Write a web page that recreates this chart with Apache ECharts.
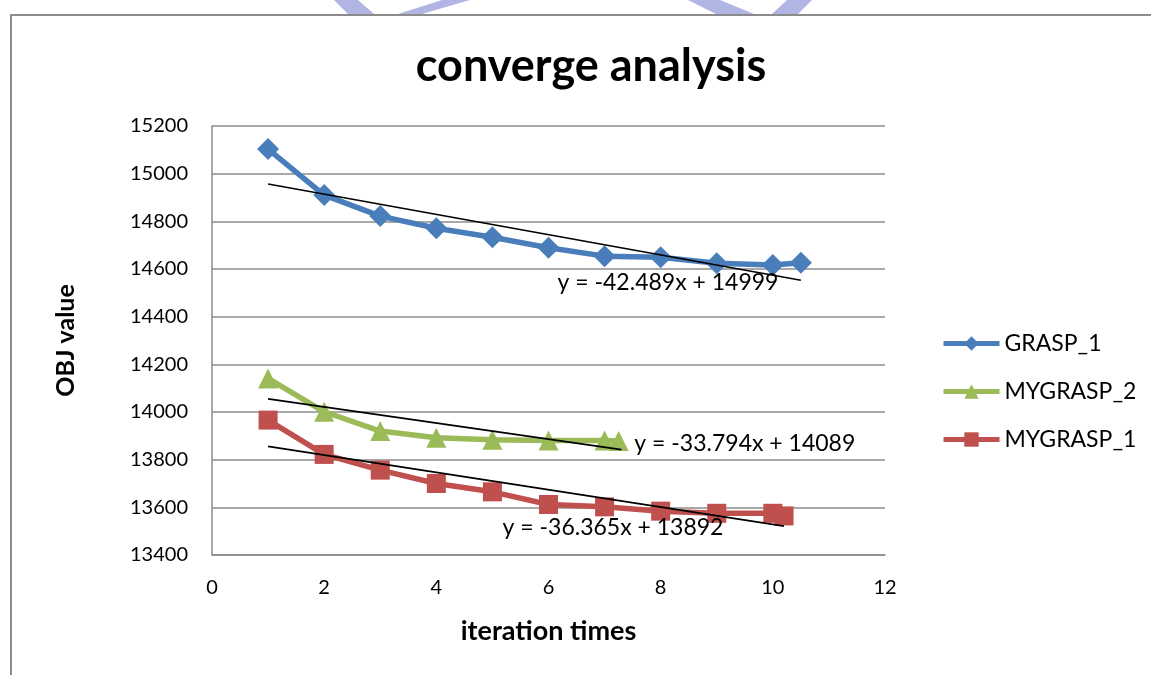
<!DOCTYPE html>
<html>
<head>
<meta charset="utf-8">
<title>converge analysis</title>
<script src="https://cdn.jsdelivr.net/npm/echarts@6/dist/echarts.min.js"></script>
<style>
    html, body { margin: 0; padding: 0; background: #fff; }
    #main { width: 1151px; height: 675px; }
</style>
</head>
<body>
<div id="main"></div>
<script>
// chart data
const seriesNames = ['GRASP_1', 'MYGRASP_2', 'MYGRASP_1']

const graspX = [1, 2, 3, 4, 5, 6, 7, 8, 9, 10, 10.5]
const graspY = [15103, 14910, 14822, 14771, 14733, 14689, 14654, 14649, 14624, 14617, 14626]

const mygrasp2X = [1, 2, 3, 4, 5, 6, 7, 7.25]
const mygrasp2Y = [14141, 14001, 13920, 13892, 13884, 13880, 13880, 13878]

const mygrasp1X = [1, 2, 3, 4, 5, 6, 7, 8, 9, 10, 10.2]
const mygrasp1Y = [13966, 13822, 13756, 13700, 13665, 13612, 13602, 13584, 13575, 13575, 13564]

// trend lines (start / end points) and their equation labels
const graspTrend = [[1, 14956.5], [10.5, 14552.9]]
const mygrasp2Trend = [[1, 14055.2], [7.3, 13842.3]]
const mygrasp1Trend = [[1, 13855.6], [10.2, 13521.1]]

const trendLabels = ['y = -42.489x + 14999', 'y = -33.794x + 14089', 'y = -36.365x + 13892']
const trendLabelAt = [[8.13, 14541], [9.5, 13866], [7.15, 13513]]

// axis ticks
const xTicks = { min: 0, max: 12, interval: 2 }
const yTicks = { min: 13400, max: 15200, interval: 200 }

const colors = ['#4a7ebb', '#9bbb59', '#c0504d']
const symbols = ['diamond', 'triangle', 'rect']
const symbolSizes = [22, 20, 19]

const font = 'Lato, "Liberation Sans", sans-serif'
const gray = '#8c8c8c'
const watermark = '#b0b5e3'

const zip = (xs, ys) => xs.map((x, i) => [x, ys[i]])

const dataSeries = [
    zip(graspX, graspY),
    zip(mygrasp2X, mygrasp2Y),
    zip(mygrasp1X, mygrasp1Y),
].map((data, i) => ({
    name: seriesNames[i],
    type: 'line',
    data: data,
    color: colors[i],
    symbol: symbols[i],
    symbolSize: symbolSizes[i],
    lineStyle: { width: 5.5, color: colors[i] },
    itemStyle: { color: colors[i] },
    z: 2,
}))

const trendSeries = [graspTrend, mygrasp2Trend, mygrasp1Trend].map((data, i) => ({
    name: 'trend' + i,
    type: 'line',
    data: data,
    symbol: 'none',
    silent: true,
    lineStyle: { width: 1.6, color: '#000' },
    z: 3,
    markPoint: {
        symbol: 'circle',
        symbolSize: 0,
        data: [{
            coord: trendLabelAt[i],
            label: {
                show: true,
                position: 'inside',
                formatter: trendLabels[i],
                color: '#000',
                fontFamily: font,
                fontSize: 23,
            },
        }],
    },
}))

const chart = echarts.init(document.getElementById('main'))

chart.setOption({
    animation: false,
    backgroundColor: '#fff',
    title: {
        text: 'converge analysis',
        left: 586,
        top: 39,
        textAlign: 'center',
        textStyle: { fontFamily: font, fontWeight: 'bold', fontSize: 45, color: '#000' },
    },
    legend: {
        data: seriesNames,
        orient: 'vertical',
        left: 941,
        top: 332,
        padding: 0,
        itemWidth: 56,
        itemHeight: 18,
        itemGap: 25,
        lineStyle: { width: 5 },
        textStyle: { fontFamily: font, fontSize: 23, color: '#000' },
    },
    grid: { left: 212, right: 266, top: 126, bottom: 120 },
    xAxis: {
        type: 'value',
        min: xTicks.min,
        max: xTicks.max,
        interval: xTicks.interval,
        name: 'iteration times',
        nameLocation: 'middle',
        nameGap: 63,
        nameTextStyle: { fontFamily: font, fontWeight: 'bold', fontSize: 27, color: '#000' },
        axisLine: { show: true, lineStyle: { color: gray, width: 1.5 } },
        axisTick: { show: false },
        splitLine: { show: false },
        axisLabel: { margin: 23, fontFamily: font, fontSize: 20, color: '#000' },
    },
    yAxis: {
        type: 'value',
        min: yTicks.min,
        max: yTicks.max,
        interval: yTicks.interval,
        name: 'OBJ value',
        nameLocation: 'middle',
        nameGap: 134,
        nameTextStyle: { fontFamily: font, fontWeight: 'bold', fontSize: 25, color: '#000' },
        axisLine: { show: true, lineStyle: { color: gray, width: 1.5 } },
        axisTick: { show: false },
        splitLine: { show: true, lineStyle: { color: gray, width: 1.5 } },
        axisLabel: {
            margin: 24, fontFamily: font, fontSize: 20, color: '#000',
            formatter: (v) => String(v),
        },
    },
    graphic: [
        // outer frame of the chart area
        { type: 'polyline', shape: { points: [[11, 675], [11, 15], [1151, 15]] },
          style: { stroke: gray, lineWidth: 2, fill: null } },
        // faint watermark pieces above the frame
        { type: 'polygon', shape: { points: [[334, 0], [358, 0], [374, 14], [348, 14]] },
          style: { fill: watermark } },
        { type: 'polygon', shape: { points: [[398, 14], [422, 14], [470, 0], [442, 0]] },
          style: { fill: watermark } },
        { type: 'polygon', shape: { points: [[688, 0], [720, 0], [754, 14], [716, 14]] },
          style: { fill: watermark } },
        { type: 'polygon', shape: { points: [[772, 14], [798, 14], [812, 0], [787, 0]] },
          style: { fill: watermark } },
    ],
    series: [...dataSeries, ...trendSeries],
})
</script>
</body>
</html>
